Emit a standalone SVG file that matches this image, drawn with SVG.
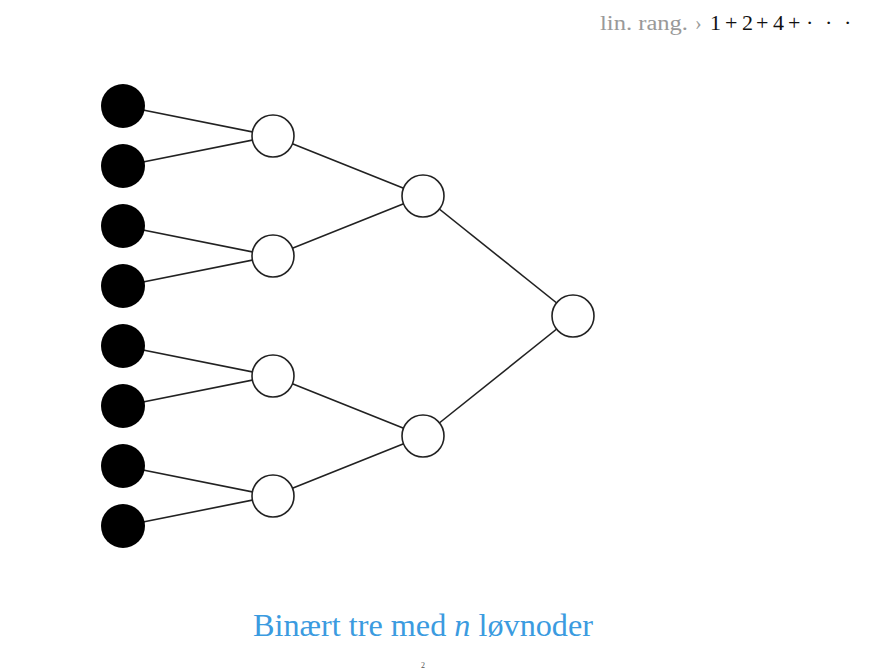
<svg xmlns="http://www.w3.org/2000/svg" width="874" height="669" viewBox="0 0 874 669">
<style>
.e{stroke:#222;stroke-width:1.6;fill:none}
.leaf{fill:#000}
.in{fill:#fff;stroke:#222;stroke-width:1.6}
.t{font-family:"Liberation Serif",serif}
.m{fill:#111;font-size:22px}
</style>
<rect width="874" height="669" fill="#fff"/>
<g id="connectors">
<line class="e" x1="123" y1="106" x2="273" y2="136"/>
<line class="e" x1="123" y1="166" x2="273" y2="136"/>
<line class="e" x1="123" y1="226" x2="273" y2="256"/>
<line class="e" x1="123" y1="286" x2="273" y2="256"/>
<line class="e" x1="123" y1="346" x2="273" y2="376"/>
<line class="e" x1="123" y1="406" x2="273" y2="376"/>
<line class="e" x1="123" y1="466" x2="273" y2="496"/>
<line class="e" x1="123" y1="526" x2="273" y2="496"/>
<line class="e" x1="273" y1="136" x2="423" y2="196"/>
<line class="e" x1="273" y1="256" x2="423" y2="196"/>
<line class="e" x1="273" y1="376" x2="423" y2="436"/>
<line class="e" x1="273" y1="496" x2="423" y2="436"/>
<line class="e" x1="423" y1="196" x2="573" y2="316"/>
<line class="e" x1="423" y1="436" x2="573" y2="316"/>
</g>
<g id="leaf1"><circle class="leaf" cx="123" cy="106" r="22"/></g>
<g id="leaf2"><circle class="leaf" cx="123" cy="166" r="22"/></g>
<g id="leaf3"><circle class="leaf" cx="123" cy="226" r="22"/></g>
<g id="leaf4"><circle class="leaf" cx="123" cy="286" r="22"/></g>
<g id="leaf5"><circle class="leaf" cx="123" cy="346" r="22"/></g>
<g id="leaf6"><circle class="leaf" cx="123" cy="406" r="22"/></g>
<g id="leaf7"><circle class="leaf" cx="123" cy="466" r="22"/></g>
<g id="leaf8"><circle class="leaf" cx="123" cy="526" r="22"/></g>
<g id="n1"><circle class="in" cx="273" cy="136" r="21"/></g>
<g id="n2"><circle class="in" cx="273" cy="256" r="21"/></g>
<g id="n3"><circle class="in" cx="273" cy="376" r="21"/></g>
<g id="n4"><circle class="in" cx="273" cy="496" r="21"/></g>
<g id="m1"><circle class="in" cx="423" cy="196" r="21"/></g>
<g id="m2"><circle class="in" cx="423" cy="436" r="21"/></g>
<g id="root"><circle class="in" cx="573" cy="316" r="21"/></g>
<text class="t" y="30" font-size="20"><tspan x="600" fill="#999" textLength="88" lengthAdjust="spacingAndGlyphs">lin. rang.</tspan><tspan x="695" fill="#999">›</tspan><tspan class="m" x="710">1</tspan><tspan class="m" x="725" font-size="26px">+</tspan><tspan class="m" x="742">2</tspan><tspan class="m" x="756" font-size="26px">+</tspan><tspan class="m" x="773">4</tspan><tspan class="m" x="788" font-size="26px">+</tspan><tspan class="m" x="806" font-size="26px">·</tspan><tspan class="m" x="825" font-size="26px">·</tspan><tspan class="m" x="844" font-size="26px">·</tspan></text>
<text class="t" x="423" y="636" text-anchor="middle" font-size="31" fill="#3b9be0" textLength="340" lengthAdjust="spacingAndGlyphs">Binært tre med <tspan font-style="italic">n</tspan> løvnoder</text>
<text class="t" x="423" y="668" text-anchor="middle" font-size="8" fill="#555">2</text>
</svg>
